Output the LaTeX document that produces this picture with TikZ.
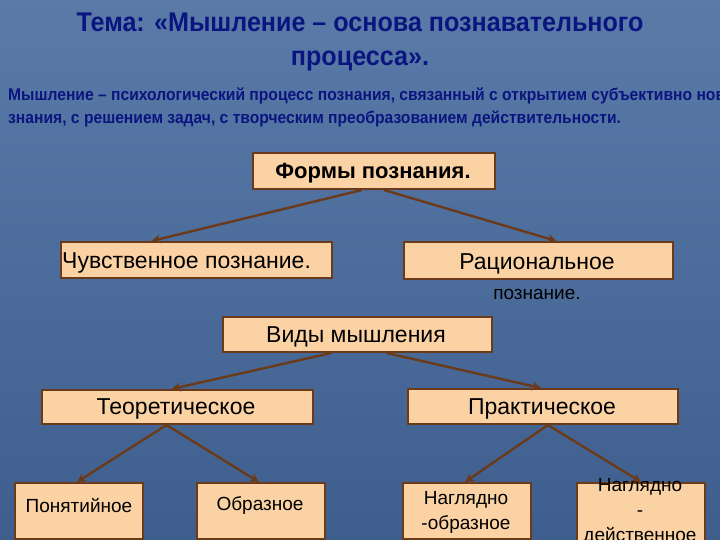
\documentclass[tikz,border=0pt]{standalone}
\usepackage{fontspec}
\setmainfont{Liberation Sans}
\usetikzlibrary{arrows.meta}
\definecolor{bgtop}{HTML}{5A7BA8}
\definecolor{bgbot}{HTML}{3E5F8E}
\definecolor{navy}{HTML}{0A1580}
\definecolor{boxfill}{HTML}{FAD2A4}
\definecolor{brn}{HTML}{6B3A1A}
\tikzset{
  bx/.style={draw=brn, line width=2pt, fill=boxfill, inner sep=0pt, anchor=north west},
  conn/.style={draw=brn, line width=2.4pt, -{Stealth[length=9pt,width=9pt]}},
}
\begin{document}
\begin{tikzpicture}[x=1pt,y=-1pt]
\useasboundingbox (0,0) rectangle (720,540);
\begin{scope}
\clip (0,0) rectangle (720,540);
\shade[top color=bgtop, bottom color=bgbot] (0,0) rectangle (720,540);
\node[text=navy, font=\bfseries\fontsize{27}{34}\selectfont, align=center, xscale=0.93] (title) at (360,42) {Тема: «Мышление – основа познавательного\\процесса».};
\node[text=navy, font=\bfseries\fontsize{17}{23}\selectfont, align=left, anchor=north west, inner sep=0pt, xscale=0.92] (sub) at (8,88) {Мышление – психологический процесс познания, связанный с открытием субъективно нового\\знания, с решением задач, с творческим преобразованием действительности.};

\node[bx, minimum width=242pt, minimum height=36pt] (f) at (252,152) {};
\node[font=\fontsize{22}{26}\selectfont\bfseries] at (373,173) {Формы познания.};
\node[bx, minimum width=271pt, minimum height=36pt] (ch) at (60,241) {};
\node[font=\fontsize{23}{27}\selectfont, anchor=west, inner sep=0pt] at (62,263) {Чувственное познание.};
\node[bx, minimum width=269pt, minimum height=37pt] (r) at (403,241) {};
\node[font=\fontsize{23}{27}\selectfont] at (537,264) {Рациональное};
\node[font=\fontsize{19}{23}\selectfont] at (537,294) {познание.};
\node[bx, minimum width=269pt, minimum height=35pt] (v) at (222,316) {};
\node[font=\fontsize{23}{27}\selectfont] at (356,337) {Виды мышления};
\node[bx, minimum width=271pt, minimum height=34pt] (t) at (41,389) {};
\node[font=\fontsize{23}{27}\selectfont] at (176,409) {Теоретическое};
\node[bx, minimum width=270pt, minimum height=35pt] (p) at (407,388) {};
\node[font=\fontsize{23}{27}\selectfont] at (542,409) {Практическое};

\node[bx, minimum width=128pt, minimum height=56pt] (a1) at (14,482) {};
\node[font=\fontsize{19}{23}\selectfont] at (79,506) {Понятийное};
\node[bx, minimum width=128pt, minimum height=56pt] (a2) at (196,482) {};
\node[font=\fontsize{19}{23}\selectfont] at (260,506) {Образное};
\node[bx, minimum width=128pt, minimum height=56pt] (a3) at (402,482) {};
\node[font=\fontsize{19}{25}\selectfont, align=center] at (466,512) {Наглядно\\-образное};
\node[bx, minimum width=128pt, minimum height=70pt] (a4) at (576,482) {};
\node[font=\fontsize{19}{25}\selectfont, align=center, anchor=north] at (640,475) {Наглядно\\-\\действенное};

\draw[conn] ([xshift=-12pt]f.south) -- ([xshift=-45pt]ch.north);
\draw[conn] ([xshift=10pt]f.south) -- ([xshift=18pt]r.north);
\draw[conn] ([xshift=-26pt]v.south) -- ([xshift=-6pt]t.north);
\draw[conn] ([xshift=29pt]v.south) -- ([xshift=-2pt]p.north);
\draw[conn] ([xshift=-11pt]t.south) -- ([xshift=-2pt]a1.north);
\draw[conn] ([xshift=-11pt]t.south) -- ([xshift=-2pt]a2.north);
\draw[conn] ([xshift=5pt]p.south) -- ([xshift=-2pt]a3.north);
\draw[conn] ([xshift=5pt]p.south) -- ([xshift=0pt]a4.north);
\end{scope}
\end{tikzpicture}
\end{document}
